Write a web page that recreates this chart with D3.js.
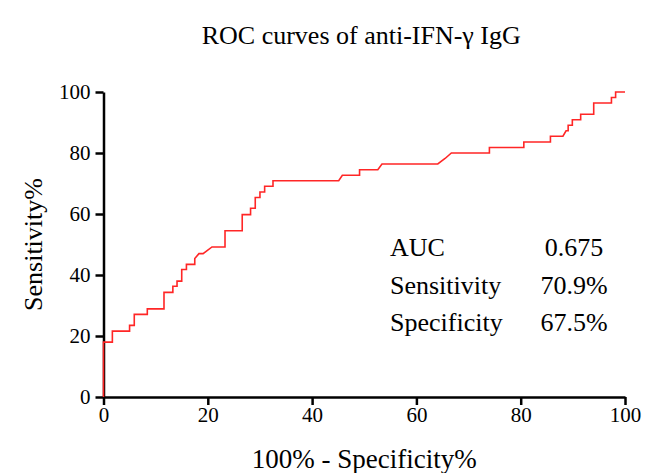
<!DOCTYPE html>
<html>
<head>
<meta charset="utf-8">
<script src="https://cdn.jsdelivr.net/npm/d3@7"></script>
<style>
  body { margin: 0; background: #fff; }
  text { font-family: "Liberation Serif", "Times New Roman", serif; fill: #000; }
</style>
</head>
<body>
<div id="chart"></div>
<script>
// ROC curve vertices: 100% - specificity% and sensitivity%
const fpr  = [0, 0, 1.7, 1.7, 5.0, 5.0, 5.9, 5.9, 8.4, 8.4, 11.6, 11.6, 13.3, 13.3, 14.1, 14.1,
              15.0, 15.0, 15.9, 15.9, 17.5, 17.5, 18.3, 19.1, 20.8, 23.3, 23.3, 26.6, 26.6,
              28.2, 28.2, 29.1, 29.1, 30.0, 30.0, 30.9, 30.9, 32.5, 32.5, 45.1, 45.8, 49.1,
              49.1, 52.6, 53.4, 64.1, 65.5, 66.7, 74.0, 74.0, 80.6, 80.6, 85.7, 85.7, 88.1,
              88.7, 89.1, 89.1, 89.9, 89.9, 91.5, 91.5, 94.0, 94.0, 97.4, 97.4, 98.2, 98.2, 100];
const sens = [0, 18.0, 18.0, 21.6, 21.6, 23.5, 23.5, 27.1, 27.1, 28.9, 28.9, 34.3, 34.3, 36.3, 36.3, 38.0,
              38.0, 41.8, 41.8, 43.5, 43.5, 45.4, 47.0, 47.0, 49.2, 49.2, 54.5, 54.5, 59.8,
              59.8, 61.9, 61.9, 65.4, 65.4, 67.2, 67.2, 69.1, 69.1, 70.9, 70.9, 72.7, 72.7,
              74.5, 74.5, 76.4, 76.4, 78.2, 80.0, 80.0, 81.8, 81.8, 83.6, 83.6, 85.5, 85.5,
              87.3, 87.3, 89.1, 89.1, 90.9, 90.9, 92.7, 92.7, 96.4, 96.4, 98.2, 98.2, 100, 100];

const xTicks = [0, 20, 40, 60, 80, 100];
const yTicks = [0, 20, 40, 60, 80, 100];

const statLabels = ["AUC", "Sensitivity", "Specificity"];
const statValues = ["0.675", "70.9%", "67.5%"];

const width = 656, height = 473;
const margin = { top: 92, right: 31, bottom: 76, left: 103.5 };

const svg = d3.select("#chart").append("svg")
    .attr("width", width)
    .attr("height", height);

const x = d3.scaleLinear().domain([0, 100]).range([margin.left, width - margin.right]);
const y = d3.scaleLinear().domain([0, 100]).range([height - margin.bottom, margin.top]);

// title
svg.append("text")
    .attr("x", (x(0) + x(100)) / 2 - 3)
    .attr("y", 44)
    .attr("text-anchor", "middle")
    .style("font-size", "26px")
    .text("ROC curves of anti-IFN-γ IgG");

// axes
const xAxis = svg.append("g")
    .attr("transform", `translate(0,${y(0)})`)
    .call(d3.axisBottom(x).tickValues(xTicks).tickSize(8).tickPadding(2).tickSizeOuter(0));
const yAxis = svg.append("g")
    .attr("transform", `translate(${x(0)},0)`)
    .call(d3.axisLeft(y).tickValues(yTicks).tickSize(8).tickPadding(5).tickSizeOuter(0));

[xAxis, yAxis].forEach(g => {
    g.select(".domain").attr("stroke", "#000").attr("stroke-width", 2.5);
    g.selectAll(".tick line").attr("stroke", "#000").attr("stroke-width", 2.5);
    g.selectAll(".tick text")
        .style("font-family", '"Liberation Serif", "Times New Roman", serif')
        .style("font-size", "21px")
        .attr("fill", "#000");
});

// axis titles
svg.append("text")
    .attr("x", (x(0) + x(100)) / 2)
    .attr("y", 468)
    .attr("text-anchor", "middle")
    .style("font-size", "27px")
    .text("100% - Specificity%");

svg.append("text")
    .attr("transform", `translate(42,${(y(0) + y(100)) / 2}) rotate(-90)`)
    .attr("text-anchor", "middle")
    .style("font-size", "26px")
    .text("Sensitivity%");

// the ROC curve
const pts = fpr.map((d, i) => [d, sens[i]]);
svg.append("path")
    .datum(pts)
    .attr("fill", "none")
    .attr("stroke", "#ff2626")
    .attr("stroke-width", 1.6)
    .attr("d", d3.line().x(d => x(d[0])).y(d => y(d[1])));

// statistics block
statLabels.forEach((lab, i) => {
    svg.append("text")
        .attr("x", 390)
        .attr("y", 256 + i * 37.5)
        .style("font-size", "26px")
        .text(lab);
    svg.append("text")
        .attr("x", 574)
        .attr("y", 256 + i * 37.5)
        .attr("text-anchor", "middle")
        .style("font-size", "26px")
        .text(statValues[i]);
});
</script>
</body>
</html>
